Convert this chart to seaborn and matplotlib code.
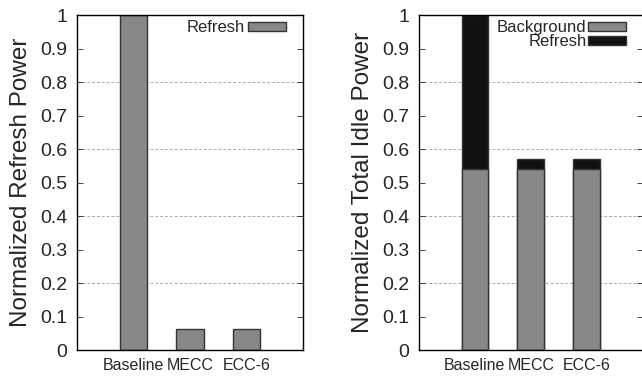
import numpy as np
import pandas as pd
import seaborn as sns
import matplotlib.pyplot as plt
from matplotlib.patches import Patch

configs = ["Baseline", "MECC", "ECC-6"]
refresh_power = [1.0, 0.063, 0.063]
idle_background = [0.54, 0.54, 0.54]
idle_refresh = [0.46, 0.03, 0.03]

sns.set_style("white")
plt.rcParams['font.family'] = ['Liberation Sans', 'DejaVu Sans']

gray = "#888888"
black = "#111111"

fig = plt.figure(figsize=(6.42, 3.77), dpi=100)
ax1 = fig.add_axes([0.12, 0.0716, 0.352, 0.888])
ax2 = fig.add_axes([0.6527, 0.0716, 0.3483, 0.888])

df1 = pd.DataFrame({"config": configs, "value": refresh_power})
idle_total = [b + r for b, r in zip(idle_background, idle_refresh)]
df2 = pd.DataFrame({"config": configs, "background": idle_background, "total": idle_total})

sns.barplot(data=df1, x="config", y="value", color=gray, width=0.48,
            edgecolor="#333333", linewidth=1.0, saturation=1, ax=ax1)
# stacked: draw totals (black) first then background on top
sns.barplot(data=df2, x="config", y="total", color=black, width=0.48,
            edgecolor="#333333", linewidth=1.0, saturation=1, ax=ax2)
sns.barplot(data=df2, x="config", y="background", color=gray, width=0.48,
            edgecolor="#333333", linewidth=1.0, saturation=1, ax=ax2)

labels = ["Normalized Refresh Power", "Normalized Total Idle Power"]
for ax, lab in zip([ax1, ax2], labels):
    ax.set_xlim(-1, 3)
    ax.set_ylim(0, 1)
    ax.set_yticks(np.arange(0, 1.01, 0.1))
    ax.set_yticklabels(["0", "0.1", "0.2", "0.3", "0.4", "0.5", "0.6", "0.7", "0.8", "0.9", "1"])
    for g in [0.2, 0.4, 0.6, 0.8]:
        ax.axhline(g, color="#aaaaaa", linestyle=(0, (3, 2)), linewidth=0.7, zorder=0)
    ax.tick_params(axis="y", direction="in", length=4, width=0.6, left=True, right=True,
                   labelsize=14, pad=7)
    ax.tick_params(axis="x", length=0, labelsize=11.5, pad=6)
    ax.set_xlabel("")
    ax.set_ylabel(lab, fontsize=17.5, labelpad=6)
    for s in ax.spines.values():
        s.set_color("black")
        s.set_linewidth(1.0)

h1 = [Patch(facecolor=gray, edgecolor="#333333", linewidth=1.0)]
ax1.legend(h1, ["Refresh"], loc="upper right", frameon=False, markerfirst=False,
           fontsize=12, handlelength=2.3, handleheight=0.5, handletextpad=0.2,
           borderaxespad=0.0, borderpad=0.2, bbox_to_anchor=(0.94, 0.995))
h2 = [Patch(facecolor=gray, edgecolor="#333333", linewidth=1.0),
      Patch(facecolor=black, edgecolor="#333333", linewidth=1.0)]
ax2.legend(h2, ["Background", "Refresh"], loc="upper right", frameon=False, markerfirst=False,
           fontsize=12, handlelength=2.3, handleheight=0.5, handletextpad=0.05,
           labelspacing=-0.05, borderaxespad=0.0, borderpad=0.2, bbox_to_anchor=(0.94, 0.995))

fig.savefig("out.png", dpi=100)
